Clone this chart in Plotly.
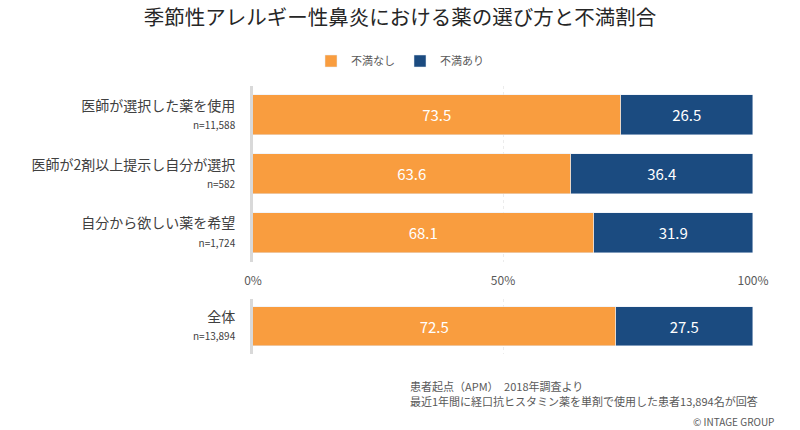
import plotly.graph_objects as go

title = "季節性アレルギー性鼻炎における薬の選び方と不満割合"
categories = ["医師が選択した薬を使用", "医師が2剤以上提示し自分が選択", "自分から欲しい薬を希望"]
n_labels = ["n=11,588", "n=582", "n=1,724"]
no_dissat = [73.5, 63.6, 68.1]
dissat = [26.5, 36.4, 31.9]

total_category = "全体"
total_n = "n=13,894"
total_no_dissat = [72.5]
total_dissat = [27.5]

series_names = ["不満なし", "不満あり"]
x_ticks = [0, 50, 100]
x_ticklabels = ["0%", "50%", "100%"]

notes = ["患者起点（APM）　2018年調査より",
         "最近1年間に経口抗ヒスタミン薬を単剤で使用した患者13,894名が回答"]
credit = "© INTAGE GROUP"

ORANGE = "#F99D3F"
BLUE = "#1B4B80"
GRAY = "#595959"
FONT = "Noto Sans CJK JP"
W, H = 800, 430

def lbl(c, n):
    return f"{c}<br><span style='font-size:10px'>{n}</span>"

top_labels = [lbl(c, n) for c, n in zip(categories, n_labels)]
bot_labels = [lbl(total_category, total_n)]

def bar(y, x, name, color, width, xa, ya, legend):
    return go.Bar(y=y, x=x, orientation="h", name=name, marker_color=color, width=width,
                  text=[f"{v:.1f}" for v in x], textposition="inside",
                  insidetextanchor="middle", showlegend=legend,
                  textfont=dict(color="white", size=15, family=FONT),
                  xaxis=xa, yaxis=ya, hoverinfo="skip")

fig = go.Figure()
fig.add_trace(bar(top_labels, no_dissat, series_names[0], ORANGE, 0.68, "x", "y", True))
fig.add_trace(bar(top_labels, dissat, series_names[1], BLUE, 0.68, "x", "y", True))
fig.add_trace(bar(bot_labels, total_no_dissat, series_names[0], ORANGE, 0.71, "x2", "y2", False))
fig.add_trace(bar(bot_labels, total_dissat, series_names[1], BLUE, 0.71, "x2", "y2", False))

xdom = [253 / W, 753 / W]
top_dom = [(H - 262) / H, (H - 86) / H]
bot_dom = [(H - 354) / H, (H - 299) / H]

common_x = dict(range=[0, 100], domain=xdom, showgrid=True, gridcolor="#ececec",
                griddash="dot", gridwidth=1, zeroline=False, showline=False,
                tickvals=x_ticks, fixedrange=True, automargin=False)
common_y = dict(showline=True, linecolor="#d9d9d9", linewidth=3, showgrid=False,
                ticks="", ticklabelstandoff=12, zeroline=False, automargin=False,
                fixedrange=True, tickfont=dict(size=14, color="#404040", family=FONT))

fig.update_layout(
    width=W, height=H, barmode="stack", bargap=0,
    margin=dict(l=0, r=0, t=0, b=0, autoexpand=False),
    paper_bgcolor="white", plot_bgcolor="white",
    font=dict(family=FONT, color=GRAY),
    title=dict(text=title, x=0.5, xanchor="center", y=(H - 18) / H, yanchor="middle",
               automargin=False, font=dict(size=20.5, color="#262626", family=FONT)),
    legend=dict(orientation="h", x=0.5, xanchor="center", y=(H - 61) / H, yanchor="middle",
                font=dict(size=11, color=GRAY), traceorder="normal"),
    xaxis=dict(**common_x, anchor="y", ticktext=x_ticklabels, showticklabels=True,
               ticks="", ticklabelstandoff=10, tickfont=dict(size=12, color=GRAY)),
    yaxis=dict(**common_y, domain=top_dom, anchor="x", autorange=False,
               range=[2.5, -0.5]),
    xaxis2=dict(**common_x, anchor="y2", showticklabels=False),
    yaxis2=dict(**common_y, domain=bot_dom, anchor="x2"),
)

fig.add_annotation(text=notes[0], xref="paper", yref="paper",
                   x=408 / W, y=(H - 386) / H, xanchor="left", yanchor="middle",
                   align="left", showarrow=False, font=dict(size=11, color=GRAY))
fig.add_annotation(text=notes[1], xref="paper", yref="paper",
                   x=408 / W, y=(H - 401) / H, xanchor="left", yanchor="middle",
                   align="left", showarrow=False, font=dict(size=11, color=GRAY))
fig.add_annotation(text=credit, xref="paper", yref="paper",
                   x=776 / W, y=(H - 421) / H, xanchor="right", yanchor="middle",
                   showarrow=False, font=dict(size=10, color=GRAY))

fig.write_html("out.html", config={"displayModeBar": False},
               post_script="document.body.style.margin='0';")
